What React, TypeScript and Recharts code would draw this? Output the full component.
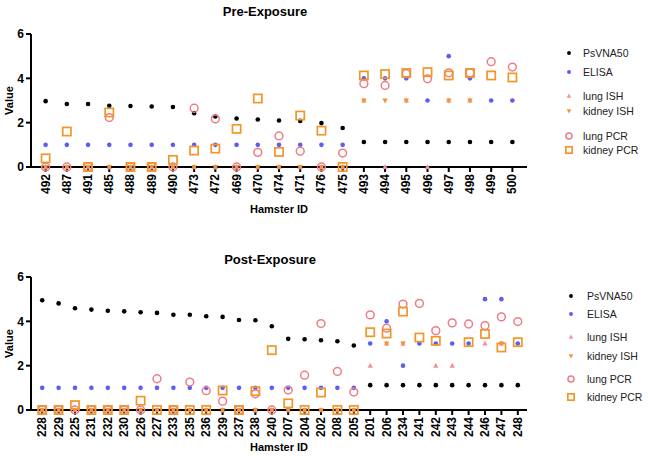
import React from 'react';
import { ComposedChart, Line, XAxis, YAxis } from 'recharts';

const FONT = '"Liberation Sans", Arial, Helvetica, sans-serif';

// Pre-exposure
const preIds = ['492', '487', '491', '485', '488', '489', '490', '473', '472', '469', '470', '474', '471', '476', '475', '493', '494', '495', '496', '497', '498', '499', '500'];
const prePsv = [2.97, 2.84, 2.84, 2.76, 2.75, 2.73, 2.71, 2.43, 2.28, 2.19, 2.14, 2.1, 2.08, 1.98, 1.76, 1.13, 1.13, 1.13, 1.13, 1.13, 1.13, 1.13, 1.13];
const preElisa = [1, 1, 1, 1, 1, 1, 1, 1, 1, 1, 1, 1, 1, 1, 1, 4, 4, 4, 3, 5, 4, 3, 3];
const preLungIsh = [0, 0, 0, 0, 0, 0, 0, 0, 0, 0, 0, 0, 0, 0, 0, 3, 0, 3, 0, 3, 3, null, null];
const preKidneyIsh = [0, 0, 0, 0, 0, 0, 0, 0, 0, 0, 0, 0, 0, 0, 0, 3, 3, 3, null, 3, 3, null, null];
const preLungPcr = [0, 0, 0, 2.23, 0, 0, 0, 2.65, 2.17, 0, 0.66, 1.4, 0.71, 0, 0.63, 3.76, 3.68, 4.21, 3.98, 4.25, 4.24, 4.75, 4.51];
const preKidneyPcr = [0.39, 1.6, 0, 2.46, 0, 0, 0.32, 0.74, 0.83, 1.72, 3.09, 0.68, 2.32, 1.64, 0, 4.13, 4.19, 4.24, 4.28, 4.13, 4.24, 4.13, 4.04];

// Post-exposure
const postIds = ['228', '229', '225', '231', '232', '230', '226', '227', '233', '235', '236', '239', '237', '238', '240', '207', '204', '202', '208', '205', '201', '206', '234', '241', '242', '243', '244', '246', '247', '248'];
const postPsv = [4.95, 4.81, 4.59, 4.53, 4.48, 4.45, 4.41, 4.38, 4.3, 4.3, 4.23, 4.2, 4.06, 4.05, 3.78, 3.21, 3.19, 3.15, 3.1, 2.91, 1.12, 1.12, 1.12, 1.12, 1.12, 1.12, 1.12, 1.12, 1.12, 1.12];
const postElisa = [1, 1, 1, 1, 1, 1, 1, 1, 1, 1, 1, 1, 1, 1, 1, 1, 1, 1, 1, 1, 3, 4, 2, 3, 3, 3, 3, 5, 5, 3];
const postLungIsh = [0, 0, 0, 0, 0, 0, 0, 0, 0, 0, 0, 0, 0, 0, 0, 0, 0, 0, 0, 0, 2, 3, 3, null, 2, 2, null, 3, 3, null];
const postKidneyIsh = [0, 0, 0, 0, 0, 0, 0, 0, 0, 0, 0, 0, 0, 0, 0, 0, 0, 0, 0, 0, null, 3, 3, null, null, null, null, null, 3, null];
const postLungPcr = [0, 0, 0, 0, 0, 0, 0, 1.41, 0, 1.26, 0.87, 0.4, 0, 0.73, 0, 0.9, 1.57, 3.9, 1.74, 0.81, 4.29, 3.69, 4.78, 4.81, 3.58, 3.93, 3.88, 3.81, 4.2, 3.99];
const postKidneyPcr = [0, 0, 0.22, 0, 0, 0, 0.42, 0, 0, 0, 0, 0.88, 0, 0.85, 2.7, 0.3, 0, 0.79, 0, 0, 3.51, 3.45, 4.44, 3.27, 3.12, null, 3.06, 3.43, 2.82, 3.06];

const yTicks = [0, 2, 4, 6];

type Kind = 'dot' | 'elisa' | 'up' | 'down' | 'circle' | 'square';

const SERIES: { key: string; name: string; kind: Kind }[] = [
  { key: 'psv', name: 'PsVNA50', kind: 'dot' },
  { key: 'elisa', name: 'ELISA', kind: 'elisa' },
  { key: 'lungIsh', name: 'lung ISH', kind: 'up' },
  { key: 'kidneyIsh', name: 'kidney ISH', kind: 'down' },
  { key: 'lungPcr', name: 'lung PCR', kind: 'circle' },
  { key: 'kidneyPcr', name: 'kidney PCR', kind: 'square' },
];

function Marker({ kind, cx, cy, s = 1 }: { kind: Kind; cx: number; cy: number; s?: number }) {
  switch (kind) {
    case 'dot':
      return <circle cx={cx} cy={cy} r={2.3 * s} fill="#000" />;
    case 'elisa':
      return <circle cx={cx} cy={cy} r={2.3 * s} fill="#5d5df0" />;
    case 'up':
      return <polygon points={`${cx},${cy - 3 * s} ${cx - 2.7 * s},${cy + 2 * s} ${cx + 2.7 * s},${cy + 2 * s}`} fill="#f2939b" />;
    case 'down':
      return <polygon points={`${cx},${cy + 3 * s} ${cx - 2.7 * s},${cy - 2 * s} ${cx + 2.7 * s},${cy - 2 * s}`} fill="#f0963a" />;
    case 'circle':
      return <circle cx={cx} cy={cy} r={3.9 * s} fill="none" stroke="#ee7c86" strokeWidth={1.5} />;
    default:
      return <rect x={cx - 4.1 * s} y={cy - 4.1 * s} width={8.2 * s} height={8.2 * s} fill="none" stroke="#f2952a" strokeWidth={1.7} />;
  }
}

function XTick({ x, y, payload }: any) {
  return (
    <text
      x={x}
      y={y}
      transform={`rotate(-90 ${x} ${y})`}
      textAnchor="end"
      dominantBaseline="central"
      fontSize={12}
      fontWeight={700}
      fontFamily={FONT}
      fill="#000"
    >
      {payload.value}
    </text>
  );
}

function buildRows(ids: string[], cols: Record<string, (number | null)[]>) {
  return ids.map((id, i) => {
    const row: Record<string, any> = { id };
    for (const k of Object.keys(cols)) row[k] = cols[k][i];
    return row;
  });
}

const preData = buildRows(preIds, {
  psv: prePsv, elisa: preElisa, lungIsh: preLungIsh, kidneyIsh: preKidneyIsh, lungPcr: preLungPcr, kidneyPcr: preKidneyPcr,
});
const postData = buildRows(postIds, {
  psv: postPsv, elisa: postElisa, lungIsh: postLungIsh, kidneyIsh: postKidneyIsh, lungPcr: postLungPcr, kidneyPcr: postKidneyPcr,
});

const axisStroke = { stroke: '#000', strokeWidth: 2 };
const tickFont = { fontSize: 12, fontWeight: 700, fill: '#000', fontFamily: FONT };
const titleFont = { fontSize: 11, fontWeight: 700, fill: '#000', fontFamily: FONT };

function Panel({ data, top, height, marginTop, xHeight, marginBottom, padding }: any) {
  return (
    <div style={{ position: 'absolute', left: 0, top }}>
      <ComposedChart
        width={540}
        height={height}
        data={data}
        margin={{ top: marginTop, right: 13, bottom: marginBottom, left: 0 }}
      >
        <XAxis
          dataKey="id"
          type="category"
          scale="band"
          interval={0}
          padding={padding}
          height={xHeight}
          tickSize={5}
          axisLine={axisStroke}
          tickLine={axisStroke}
          tick={<XTick />}
          label={{ value: 'Hamster ID', position: 'insideBottom', offset: 0, style: titleFont }}
        />
        <YAxis
          type="number"
          domain={[0, 6]}
          ticks={yTicks}
          interval={0}
          width={31}
          tickSize={5}
          axisLine={axisStroke}
          tickLine={axisStroke}
          tick={tickFont}
          label={{ value: 'Value', angle: -90, position: 'insideLeft', offset: 9, style: { ...titleFont, textAnchor: 'middle' } }}
        />
        {SERIES.map((s) => (
          <Line
            key={s.key}
            dataKey={s.key}
            name={s.name}
            stroke="none"
            isAnimationActive={false}
            activeDot={false}
            dot={(p: any) =>
              p.cy == null || p.value == null ? (
                <g key={`${s.key}-${p.index}`} />
              ) : (
                <g key={`${s.key}-${p.index}`}>
                  <Marker kind={s.kind} cx={p.cx} cy={p.cy} />
                </g>
              )
            }
          />
        ))}
      </ComposedChart>
    </div>
  );
}

function LegendBox({ x, textX, ys }: { x: number; textX: number; ys: number[] }) {
  return (
    <>
      {SERIES.map((s, i) => (
        <div key={s.key} style={{ position: 'absolute', left: 0, top: 0 }}>
          <svg width={12} height={12} style={{ position: 'absolute', left: x - 6, top: ys[i] - 6 }}>
            <Marker kind={s.kind} cx={6} cy={6} s={s.kind === 'circle' || s.kind === 'square' ? 0.78 : 0.85} />
          </svg>
          <span
            style={{
              position: 'absolute',
              left: textX,
              top: ys[i] - 7,
              fontSize: 10.5,
              lineHeight: '14px',
              fontFamily: FONT,
              color: '#222',
              whiteSpace: 'nowrap',
            }}
          >
            {s.name}
          </span>
        </div>
      ))}
    </>
  );
}

const titleStyle: React.CSSProperties = {
  position: 'absolute',
  fontFamily: FONT,
  fontWeight: 700,
  fontSize: 13,
  color: '#000',
  width: 200,
  textAlign: 'center',
  lineHeight: '16px',
};

export default function App() {
  return (
    <div style={{ position: 'absolute', left: 0, top: 0, width: 648, height: 456, background: '#fff', overflow: 'hidden' }}>
      <div style={{ ...titleStyle, left: 165, top: 4 }}>Pre-Exposure</div>
      <div style={{ ...titleStyle, left: 170, top: 252 }}>Post-Exposure</div>
      <Panel data={preData} top={0} height={230} marginTop={34} xHeight={46} marginBottom={17} padding={{ left: 4, right: 4 }} />
      <Panel data={postData} top={245} height={211} marginTop={32} xHeight={41} marginBottom={5} padding={{ left: 3, right: 1 }} />
      <LegendBox x={569} textX={583} ys={[53, 72, 96, 111, 136, 150]} />
      <LegendBox x={571} textX={587} ys={[296, 314, 337, 356, 379, 397]} />
    </div>
  );
}
